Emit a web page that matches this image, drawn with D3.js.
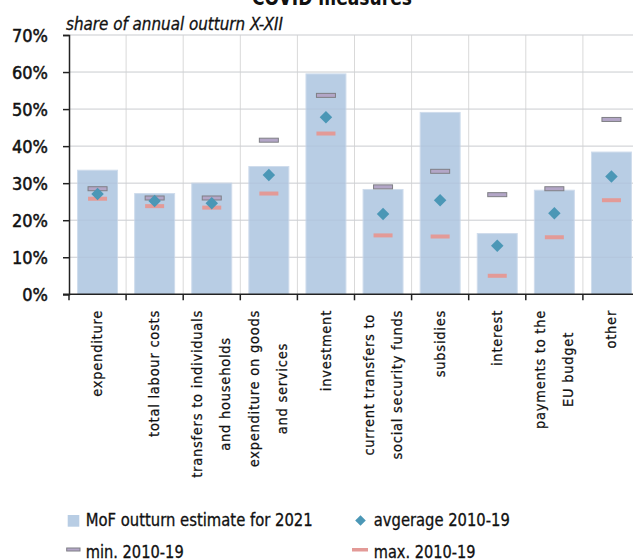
<!DOCTYPE html>
<html><head><meta charset="utf-8">
<script src="https://cdn.jsdelivr.net/npm/d3@7"></script>
<style>
body{margin:0;background:#fff;}
svg text{font-family:"DejaVu Sans Condensed","DejaVu Sans",sans-serif;font-stretch:condensed;fill:#111;}
</style></head>
<body>
<svg id="chart" width="633" height="559"></svg>
<script>
const categories = [
  ["expenditure"],
  ["total labour costs"],
  ["transfers to individuals","and households"],
  ["expenditure on goods","and services"],
  ["investment"],
  ["current transfers to","social security funds"],
  ["subsidies"],
  ["interest"],
  ["payments to the","EU budget"],
  ["other"]
];
const estimate2021 = [33.5, 27.2, 30.0, 34.5, 59.5, 28.3, 49.1, 16.4, 28.1, 38.4];
const average = [27.1, 25.2, 24.6, 32.2, 47.8, 21.7, 25.4, 13.1, 21.9, 31.8];
const minVals = [28.5, 26.0, 26.0, 41.6, 53.7, 29.0, 33.2, 26.9, 28.5, 47.2];
const maxVals = [25.8, 23.8, 23.4, 27.2, 43.4, 15.9, 15.6, 5.0, 15.4, 25.4];
const yTicks = [0, 10, 20, 30, 40, 50, 60, 70];
const legendLabels = ["MoF outturn estimate for 2021", "avgerage 2010-19", "min. 2010-19", "max. 2010-19"];

(function(){
const svg = d3.select("#chart");
const pL = 69, pR = 640, pT = 35, pB = 294.3;
const idx = d3.range(categories.length);
const x = d3.scaleBand().domain(idx).range([pL, pR]).paddingInner(0.3).paddingOuter(0.15);
const y = d3.scaleLinear().domain([0, 70]).range([pB, pT]);

const barColor = "#b8cde4", diamondColor = "#4b97b6", pink = "#e39a97", minFill = "#b3a6c7", minStroke = "#7f7f85";

const grid = svg.append("g");
grid.selectAll("line.h").data(yTicks.slice(1)).join("line")
  .attr("x1", pL).attr("x2", pR).attr("y1", d => y(d)).attr("y2", d => y(d))
  .attr("stroke", "#d9d9d9").attr("stroke-width", 1);
const bounds = d3.range(1, categories.length).map(i => pL + i * x.step());
grid.selectAll("line.v").data(bounds).join("line")
  .attr("x1", d => d).attr("x2", d => d).attr("y1", pT).attr("y2", pB)
  .attr("stroke", "#d9d9d9").attr("stroke-width", 1);

svg.append("g").selectAll("rect").data(idx).join("rect")
  .attr("x", i => x(i)).attr("width", x.bandwidth())
  .attr("y", i => y(estimate2021[i])).attr("height", i => pB - y(estimate2021[i]))
  .attr("fill", barColor).attr("stroke", "#cfdcec").attr("stroke-width", 1);

svg.append("g").selectAll("line").data(yTicks.slice(1)).join("line")
  .attr("x1", pL).attr("x2", pR).attr("y1", d => y(d)).attr("y2", d => y(d))
  .attr("stroke", "#9aa9bb").attr("stroke-opacity", 0.18);

svg.append("g").selectAll("rect").data(idx).join("rect")
  .attr("x", i => x(i) + x.bandwidth()/2 - 9.5).attr("width", 19)
  .attr("y", i => y(minVals[i]) - 2).attr("height", 4)
  .attr("fill", minFill).attr("stroke", minStroke).attr("stroke-width", 1);

svg.append("g").selectAll("rect").data(idx).join("rect")
  .attr("x", i => x(i) + x.bandwidth()/2 - 9.5).attr("width", 19)
  .attr("y", i => y(maxVals[i]) - 2).attr("height", 4)
  .attr("fill", pink);

const diamond = d3.symbol().type(d3.symbolSquare).size(78);
svg.append("g").selectAll("path").data(idx).join("path")
  .attr("d", diamond)
  .attr("transform", i => `translate(${x(i) + x.bandwidth()/2},${y(average[i])}) rotate(45)`)
  .attr("fill", diamondColor);

const yAxis = d3.axisLeft(y).tickValues(yTicks).tickFormat(d => d + "%").tickSize(6).tickPadding(15);
const gy = svg.append("g").attr("transform", `translate(${pL},0)`).call(yAxis);
gy.select(".domain").attr("stroke", "#222").attr("stroke-width", 1.5);
gy.selectAll(".tick line").attr("stroke", "#222").attr("stroke-width", 1.5);
gy.selectAll(".tick text").attr("font-size", 18).attr("fill", "#111")
  .attr("stroke", "#111").attr("stroke-width", 0.5).attr("dy", "0.36em")
  .style("font-family", '"DejaVu Sans Condensed","DejaVu Sans",sans-serif');

svg.append("line").attr("x1", pL - 6).attr("x2", pR).attr("y1", pB).attr("y2", pB)
  .attr("stroke", "#222").attr("stroke-width", 1.5);
svg.append("g").selectAll("line").data([pL, ...bounds]).join("line")
  .attr("x1", d => d).attr("x2", d => d).attr("y1", pB).attr("y2", pB + 6)
  .attr("stroke", "#222").attr("stroke-width", 1.5);

// category labels: block anchored at top, lines centred within block
const lab = svg.append("g");
idx.forEach(i => {
  const lines = categories[i];
  const cx = x(i) + x.bandwidth()/2;
  const n = lines.length;
  const g = lab.append("g");
  const texts = lines.map((t, k) => {
    const off = (k - (n - 1) / 2) * 28;
    return g.append("text")
      .attr("text-anchor", "middle").attr("dy", "0.32em")
      .attr("font-size", 14.5).attr("letter-spacing", 0.75)
      .attr("stroke", "#111").attr("stroke-width", 0.25)
      .attr("data-off", off)
      .text(t);
  });
  const maxLen = d3.max(texts, t => t.node().getComputedTextLength());
  const cy = 310 + maxLen / 2;
  texts.forEach(t => {
    const off = +t.attr("data-off");
    t.attr("transform", `translate(${cx + off},${cy}) rotate(-90)`);
  });
});

svg.append("text").attr("x", 332).attr("y", 5).attr("text-anchor", "middle")
  .attr("font-size", 21).attr("font-weight", "bold")
  .attr("textLength", 160).attr("lengthAdjust", "spacingAndGlyphs").text("COVID measures");
svg.append("text").attr("x", 66).attr("y", 29.5).attr("font-size", 17.5).attr("font-style", "italic")
  .attr("stroke", "#111").attr("stroke-width", 0.3)
  .attr("textLength", 217).attr("lengthAdjust", "spacingAndGlyphs")
  .text("share of annual outturn X-XII");

const lg = svg.append("g");
lg.append("rect").attr("x", 67.7).attr("y", 515).attr("width", 11.6).attr("height", 11.7).attr("fill", barColor);
lg.append("text").attr("x", 85.7).attr("y", 526).attr("font-size", 17.5)
  .attr("stroke", "#111").attr("stroke-width", 0.3)
  .attr("textLength", 227).attr("lengthAdjust", "spacingAndGlyphs").text(legendLabels[0]);
lg.append("path").attr("d", d3.symbol().type(d3.symbolSquare).size(56))
  .attr("transform", "translate(360.5,520.5) rotate(45)").attr("fill", diamondColor);
lg.append("text").attr("x", 373.8).attr("y", 526).attr("font-size", 17.5)
  .attr("stroke", "#111").attr("stroke-width", 0.3)
  .attr("textLength", 136).attr("lengthAdjust", "spacingAndGlyphs").text(legendLabels[1]);
lg.append("rect").attr("x", 66.7).attr("y", 548).attr("width", 13.3).attr("height", 3)
  .attr("fill", minFill).attr("stroke", minStroke).attr("stroke-width", 1);
lg.append("text").attr("x", 85.7).attr("y", 557.5).attr("font-size", 17.5)
  .attr("stroke", "#111").attr("stroke-width", 0.3)
  .attr("textLength", 98).attr("lengthAdjust", "spacingAndGlyphs").text(legendLabels[2]);
lg.append("rect").attr("x", 352).attr("y", 548).attr("width", 16).attr("height", 3.5).attr("fill", pink);
lg.append("text").attr("x", 373.8).attr("y", 557.5).attr("font-size", 17.5)
  .attr("stroke", "#111").attr("stroke-width", 0.3)
  .attr("textLength", 101.6).attr("lengthAdjust", "spacingAndGlyphs").text(legendLabels[3]);
})();
</script>
</body></html>
